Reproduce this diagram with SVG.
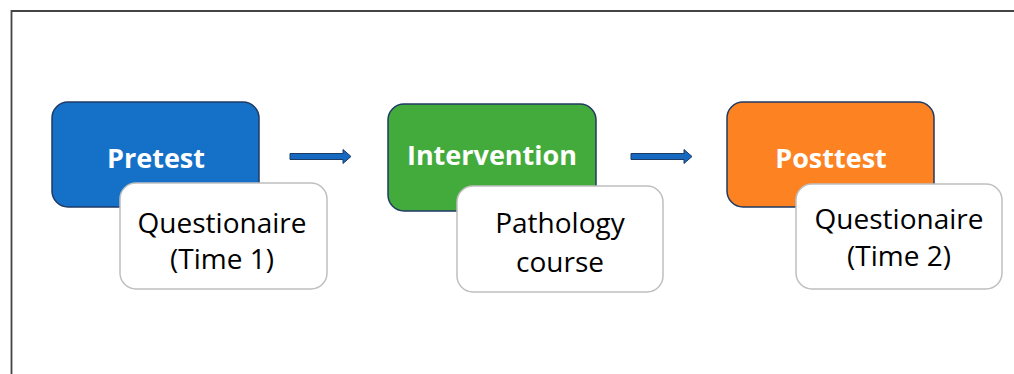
<svg xmlns="http://www.w3.org/2000/svg" width="1014" height="374" viewBox="0 0 1014 374">
<style>
.main{stroke:#1F3A63;stroke-width:1.5}
.sub{fill:#fff;stroke:#BFBFBF;stroke-width:1.5}
.t1{font-family:"Open Sans","Liberation Sans",sans-serif;font-weight:bold;font-size:27px;fill:#fff;text-anchor:middle}
.t2{font-family:"Open Sans","Liberation Sans",sans-serif;font-size:28px;fill:#000;text-anchor:middle}
.arr{fill:#1569C0;stroke:#1F3A63;stroke-width:1}
</style>
<rect width="1014" height="374" fill="#fff"/>
<path d="M11.5 374 V11 H1014" fill="none" stroke="#444" stroke-width="1.8"/>
<g id="pretest">
<rect class="main" x="52" y="102" width="207" height="105" rx="16" fill="#1570C8"/>
<text class="t1" x="156" y="168">Pretest</text>
</g>
<g id="questionaire1">
<rect class="sub" x="120" y="183" width="207" height="106" rx="16"/>
<text class="t2" x="222" y="233">Questionaire</text>
<text class="t2" x="222" y="269">(Time 1)</text>
</g>
<g id="intervention">
<rect class="main" x="388" y="104" width="208" height="107" rx="16" fill="#43AB3C"/>
<text class="t1" x="492" y="165">Intervention</text>
</g>
<g id="pathology">
<rect class="sub" x="457" y="186" width="206" height="106" rx="16"/>
<text class="t2" x="560" y="233">Pathology</text>
<text class="t2" x="560" y="272">course</text>
</g>
<g id="posttest">
<rect class="main" x="727" y="102" width="207" height="105" rx="16" fill="#FD8222"/>
<text class="t1" x="831" y="168">Posttest</text>
</g>
<g id="questionaire2">
<rect class="sub" x="796" y="184" width="206" height="105" rx="16"/>
<text class="t2" x="899" y="229">Questionaire</text>
<text class="t2" x="899" y="266">(Time 2)</text>
</g>
<g id="connectors">
<path class="arr" d="M290 153.5 H343 V149.5 L351 156.5 L343 163.5 V159.5 H290 Z"/>
<path class="arr" d="M631 153.5 H684 V149.5 L692 156.5 L684 163.5 V159.5 H631 Z"/>
</g>
</svg>
